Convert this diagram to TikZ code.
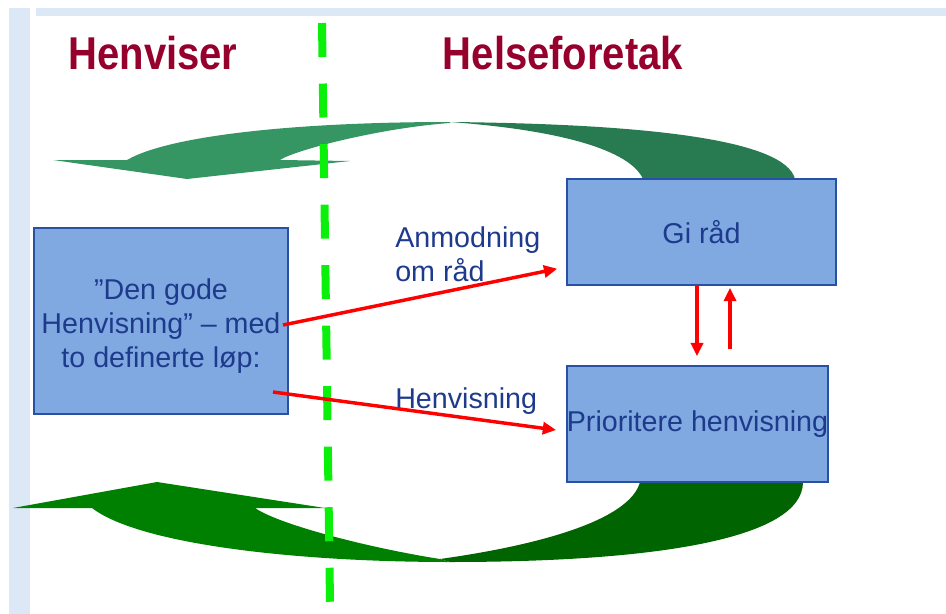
\documentclass[tikz,border=0pt]{standalone}
\usepackage{fontspec}
\setmainfont{Liberation Sans}
\usetikzlibrary{arrows.meta,calc}
\definecolor{titlered}{RGB}{150,0,45}
\definecolor{textblue}{RGB}{30,58,140}
\definecolor{boxfill}{RGB}{127,169,224}
\definecolor{boxline}{RGB}{40,80,165}
\definecolor{slidebar}{RGB}{220,232,246}
\definecolor{splitgreen}{RGB}{10,240,10}
\definecolor{topgreenA}{RGB}{53,150,100}
\definecolor{topgreenB}{RGB}{40,122,80}
\definecolor{lowgreenA}{RGB}{0,128,0}
\definecolor{lowgreenB}{RGB}{0,100,0}

\begin{document}
\begin{tikzpicture}[x=0.75pt, y=-0.75pt,
	every node/.style={font=\fontsize{21.5}{25.5}\selectfont, text=textblue},
	box/.style={draw=boxline, line width=1.1pt, fill=boxfill, inner sep=0pt, align=center},
	title/.style={text=titlered, font=\fontsize{30}{36}\selectfont\bfseries},
	flow/.style={red, line width=2.6pt, -{Triangle[length=10pt,width=9pt]}}]
	\useasboundingbox (0,0) rectangle (946,614);
	% slide frame
	\fill[slidebar] (9,8) rectangle (30,614);
	\fill[slidebar] (36,8) rectangle (946,16);
	\node[title] (henviser) at (153,53) {\scalebox{1}[1.15]{Henviser}};
	\node[title] (helseforetak) at (563,53) {\scalebox{1}[1.15]{Helseforetak}};
	% green return arrows
	\fill[topgreenB] (795,179) .. controls (785,140) and (650,124) .. (450,122) .. controls (560,130) and (630,150) .. (643,179) -- cycle;
	\fill[topgreenA] (450,122) .. controls (300,122) and (170,135) .. (127,160) -- (53,160) -- (187,179) -- (350,161) -- (280,160) .. controls (295,150) and (380,128) .. (450,123) -- cycle;
	\fill[lowgreenB] (803,482) .. controls (803,540) and (650,562) .. (450,562) -- (440,559) .. controls (540,545) and (630,520) .. (640,482) -- cycle;
	\fill[lowgreenA] (450,562) .. controls (300,562) and (140,545) .. (92,508) -- (13,508) -- (157,482) -- (325,508) -- (255,508) .. controls (280,525) and (370,548) .. (440,559) -- cycle;
	% border between the two sides
	\draw[splitgreen, line width=6pt, dash pattern=on 25.5pt off 19.9pt] (322,23) -- (330,602);
	\node[box, minimum width=190.5pt, minimum height=139.5pt] (henvisning) at (161,321) {\raisebox{-9.4pt}[0pt][0pt]{\begin{tabular}{@{}c@{}}”Den gode\\Henvisning” – med\\to definerte løp:\end{tabular}}};
	\node[box, minimum width=201.75pt, minimum height=79.5pt] (giraad) at (701.5,232) {Gi råd};
	\node[box, minimum width=195.75pt, minimum height=87pt] (prioritere) at (697.5,424) {Prioritere henvisning};
	\node[anchor=north west, align=left, inner sep=0pt] (anmodning) at (395,226) {Anmodning\\om råd};
	\node[anchor=base west, inner sep=0pt] (henvlbl) at (395,408) {Henvisning};
	\coordinate (raadstart) at (283,325);
	\coordinate (henvstart) at (273,392);
	\draw[flow] (raadstart) -- ($(giraad.south west)+(-9,-17)$);
	\draw[flow] (henvstart) -- ($(prioritere.west)+(-10,6)$);
	\draw[flow] ($(giraad.south)+(-4.5,0)$) -- ($(prioritere.north)+(-0.5,-9)$);
	\draw[flow] ($(prioritere.north)+(32.5,-16)$) -- ($(giraad.south)+(28.5,2)$);
\end{tikzpicture}
\end{document}
